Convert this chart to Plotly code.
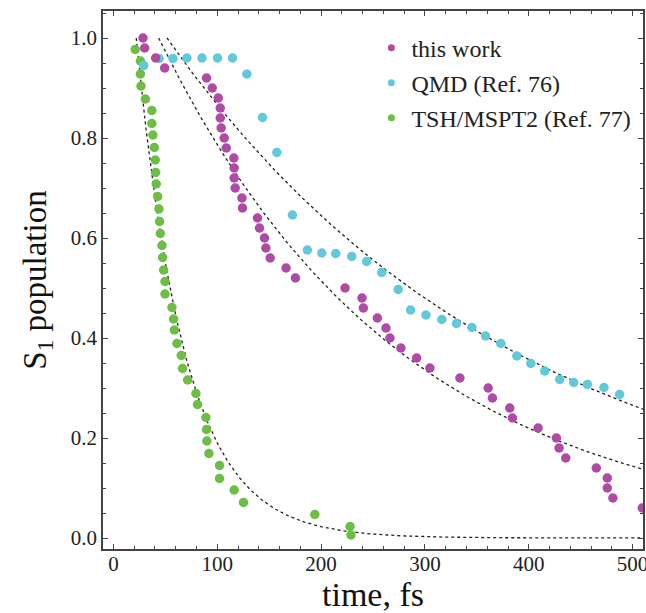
import numpy as np
import plotly.graph_objects as go

# ---- data ----
this_work_t = [28.5, 30.1, 40.7, 49.4, 89.7, 95.2, 101, 102.9, 102.9, 103.8, 106.7, 108.7,
               116, 116.3, 116.3, 117.3, 123.8, 124.3, 138.8, 140.7, 145.5, 146.8, 151, 166.3,
               175.3, 223.1, 239.4, 240.7, 254.2, 262.5, 266.3, 276.9, 292, 304.8, 333.7, 360.9,
               365, 381.7, 384.3, 409, 426.6, 429.2, 435.6, 465, 475.6, 475.6, 481, 509.3]
this_work_p = [1.00, 0.98, 0.96, 0.94, 0.92, 0.90, 0.88, 0.86, 0.84, 0.82, 0.80, 0.78,
               0.76, 0.74, 0.72, 0.70, 0.68, 0.66, 0.64, 0.62, 0.60, 0.58, 0.56, 0.54,
               0.52, 0.50, 0.48, 0.46, 0.44, 0.42, 0.40, 0.38, 0.36, 0.34, 0.32, 0.30,
               0.28, 0.26, 0.24, 0.22, 0.20, 0.18, 0.16, 0.14, 0.12, 0.10, 0.08, 0.06]

qmd_t = [29.2, 44, 57.3, 70.8, 85.3, 100.3, 114.7, 128.5, 143.6, 157.4, 172.4, 186.8, 200.7,
         214.1, 229.5, 243.9, 258.4, 274.3, 286.2, 301, 316.3, 330.4, 345.2, 358.4, 373.1,
         388.5, 402, 415.4, 429.8, 443.3, 456.4, 472.4, 487.5]
qmd_p = [0.945, 0.959, 0.959, 0.96, 0.96, 0.96, 0.96, 0.928, 0.841, 0.771, 0.646, 0.576, 0.570,
         0.569, 0.563, 0.553, 0.531, 0.497, 0.456, 0.446, 0.437, 0.429, 0.421, 0.404, 0.389,
         0.364, 0.349, 0.334, 0.317, 0.311, 0.307, 0.301, 0.287]

tsh_t = [21, 26, 26, 26.6, 30.8, 37, 37, 38, 39.4, 40.4, 40.7, 41.3, 42.6, 43.9, 44.5,
         45.2, 46.8, 47.4, 48.4, 49.7, 49.7, 56.4, 58, 58.7, 61.2, 65.4, 66.6, 71.5, 79.5,
         81, 89.1, 89.7, 90, 92, 102.2, 102.2, 116.3, 125.3, 194, 227.9, 228.8]
tsh_p = [0.977, 0.954, 0.928, 0.904, 0.878, 0.855, 0.829, 0.806, 0.781, 0.756, 0.731, 0.708,
         0.683, 0.658, 0.633, 0.609, 0.585, 0.561, 0.536, 0.513, 0.488, 0.461, 0.438, 0.416,
         0.389, 0.365, 0.339, 0.316, 0.289, 0.267, 0.241, 0.217, 0.194, 0.169, 0.145, 0.119,
         0.096, 0.071, 0.047, 0.023, 0.006]

# exponential fits exp(-(t - t0)/tau), parameters
fit_t0 = [22.0, 43.6, 51.6]
fit_tau = [47.0, 235.0, 338.0]

series_names = ["this work", "QMD (Ref. 76)", "TSH/MSPT2 (Ref. 77)"]
colors = ["#B04AA6", "#62C8DC", "#6CBE45"]

x_ticks = [0, 100, 200, 300, 400, 500]
y_ticks = [0.0, 0.2, 0.4, 0.6, 0.8, 1.0]

FONT = "Liberation Serif"

fig = go.Figure()

# fit curves
for t0, tau in zip(fit_t0, fit_tau):
    tt = np.linspace(t0, 515, 400)
    fig.add_trace(go.Scatter(x=tt, y=np.exp(-(tt - t0) / tau), mode="lines",
                             line=dict(color="#222222", width=1.3, dash="dot"),
                             showlegend=False, hoverinfo="skip"))

datasets = [(tsh_t, tsh_p, 2), (qmd_t, qmd_p, 1), (this_work_t, this_work_p, 0)]
for t, p, i in datasets:
    fig.add_trace(go.Scatter(x=t, y=p, mode="markers", name=series_names[i],
                             marker=dict(color=colors[i], size=9.5, line=dict(width=0)),
                             showlegend=False))

# legend entries (one legend per row for exact placement)
legend_rows_y = [0.931, 0.866, 0.801]
legend_names = ["legend", "legend2", "legend3"]
for i in range(3):
    fig.add_trace(go.Scatter(x=[None], y=[None], mode="markers", name=series_names[i],
                             marker=dict(color=colors[i], size=7),
                             legend=legend_names[i], showlegend=True))

legend_common = dict(x=0.497, xanchor="left", yanchor="middle", bgcolor="rgba(0,0,0,0)",
                     font=dict(family=FONT, size=24, color="#222222"), itemwidth=30,
                     borderwidth=0)
fig.update_layout(
    legend=dict(y=legend_rows_y[0], **legend_common),
    legend2=dict(y=legend_rows_y[1], **legend_common),
    legend3=dict(y=legend_rows_y[2], **legend_common),
)

axis_common = dict(showline=True, linecolor="#444444", linewidth=1.8, mirror="ticks",
                   ticks="inside", ticklen=5, tickwidth=1.2, tickcolor="#444444",
                   showgrid=False, zeroline=False, ticklabeloverflow="allow",
                   automargin=False,
                   tickfont=dict(family=FONT, size=21, color="#222222"))

fig.update_xaxes(range=[-10, 510], tickvals=x_ticks, ticktext=[str(v) for v in x_ticks],
                 ticklabelstandoff=-5,
                 minor=dict(dtick=20, ticks="inside", ticklen=3, tickcolor="#444444",
                            tickwidth=1.2, showgrid=False),
                 title=dict(text="time, fs", font=dict(family=FONT, size=34, color="#111111"),
                            standoff=8),
                 **axis_common)
fig.update_yaxes(range=[-0.022, 1.054], tickvals=y_ticks,
                 ticktext=[f"{v:.1f}" for v in y_ticks],
                 minor=dict(dtick=0.05, tick0=0, ticks="inside", ticklen=3, tickcolor="#444444",
                            tickwidth=1.2, showgrid=False),
                 title=dict(text="S<sub>1</sub> population",
                            font=dict(family=FONT, size=33, color="#111111"), standoff=14),
                 **axis_common)

fig.update_layout(width=646, height=613, margin=dict(l=103, r=3, t=11, b=64),
                  plot_bgcolor="white", paper_bgcolor="white",
                  font=dict(family=FONT))

fig.write_html("out.html")
